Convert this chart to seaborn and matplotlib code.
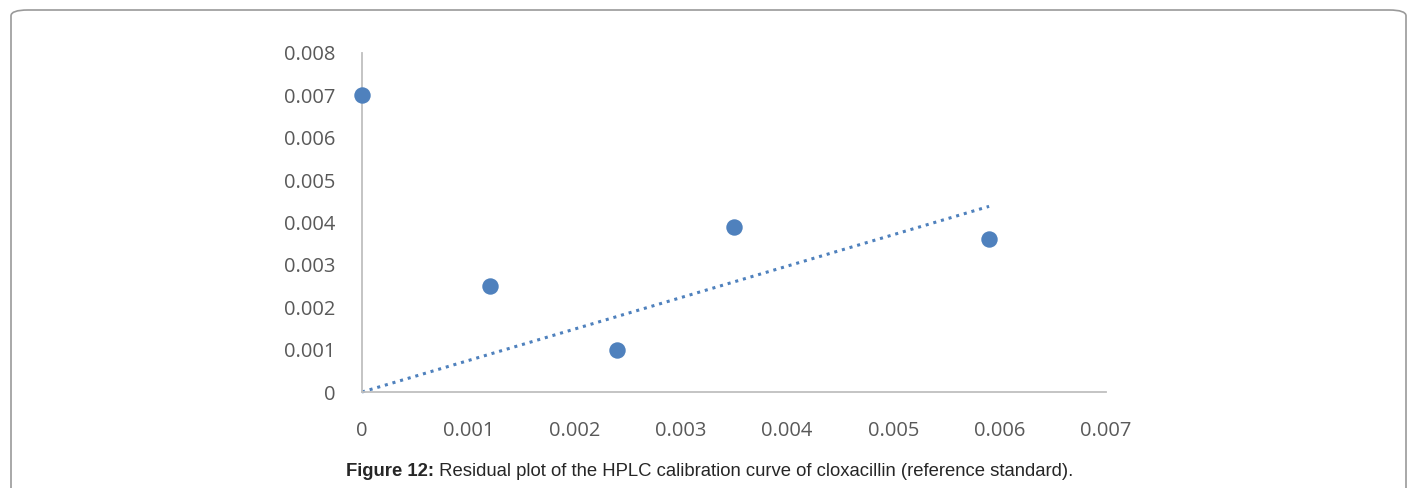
import numpy as np
import pandas as pd
import seaborn as sns
import matplotlib.pyplot as plt
from matplotlib.patches import FancyBboxPatch

# Residuals of the calibration standards
concentration = [0.0, 0.0012, 0.0024, 0.0035, 0.0059]
residual = [0.007, 0.0025, 0.001, 0.0039, 0.0036]
x_ticks = [0, 0.001, 0.002, 0.003, 0.004, 0.005, 0.006, 0.007]
x_tick_labels = ["0", "0.001", "0.002", "0.003", "0.004", "0.005", "0.006", "0.007"]
y_ticks = [0, 0.001, 0.002, 0.003, 0.004, 0.005, 0.006, 0.007, 0.008]
y_tick_labels = ["0", "0.001", "0.002", "0.003", "0.004", "0.005", "0.006", "0.007", "0.008"]
caption_bold = "Figure 12:"
caption_text = " Residual plot of the HPLC calibration curve of cloxacillin (reference standard)."

df = pd.DataFrame({"conc": concentration, "res": residual})

sns.set_theme(style="white")
plt.rcParams["font.family"] = ["Open Sans", "DejaVu Sans"]

fig = plt.figure(figsize=(14.07, 4.88), dpi=100)

# rounded panel frame
frame = FancyBboxPatch((11 / 1407, -0.2), (1406 - 11) / 1407, 1.2 - 10 / 488,
                       boxstyle="round,pad=0,rounding_size=0.012",
                       transform=fig.transFigure, fill=False,
                       edgecolor="#9a9a9a", linewidth=1.2, zorder=0)
fig.patches.append(frame)

ax = fig.add_axes([362 / 1407, 1 - 392 / 488, (1106 - 362) / 1407, (392 - 53) / 488])
blue = "#4f81bd"

sns.scatterplot(data=df, x="conc", y="res", ax=ax, color=blue, s=140,
                edgecolor=blue, linewidth=0, zorder=3, clip_on=False)

# linear trendline forced through the origin
xv = np.array(concentration)
yv = np.array(residual)
slope = (xv @ yv) / (xv @ xv)
tx = np.array([0.0, xv.max()])
ax.plot(tx, slope * tx, linestyle=(0, (1, 1.6)), color=blue, linewidth=2.2,
        zorder=2, clip_on=False)

ax.set_xlim(0, 0.007)
ax.set_ylim(0, 0.008)
ax.set_xticks(x_ticks)
ax.set_xticklabels(x_tick_labels)
ax.set_yticks(y_ticks)
ax.set_yticklabels(y_tick_labels)
ax.set_xlabel("")
ax.set_ylabel("")
ax.tick_params(axis="x", length=0, pad=21, labelsize=14.5, labelcolor="#595959")
ax.tick_params(axis="y", length=0, pad=19, labelsize=14.5, labelcolor="#595959")

for side in ["top", "right"]:
    ax.spines[side].set_visible(False)
for side in ["left", "bottom"]:
    ax.spines[side].set_color("#bfbfbf")
    ax.spines[side].set_linewidth(1.3)
ax.grid(False)

# caption with bold figure number
cap_y = 1 - 472 / 488
t1 = fig.text(0.5, cap_y, caption_bold, fontsize=13.3, fontweight="bold",
              family=["Liberation Sans", "DejaVu Sans"], ha="left", va="center")
t2 = fig.text(0.5, cap_y, caption_text, fontsize=13.3,
              family=["Liberation Sans", "DejaVu Sans"], ha="left", va="center")
fig.canvas.draw()
r = fig.canvas.get_renderer()
w1 = t1.get_window_extent(r).width
w2 = t2.get_window_extent(r).width
total = w1 + w2
x0 = (710 - total / 2) / 1407
t1.set_x(x0)
t2.set_x(x0 + w1 / 1407)

fig.savefig("out.png", dpi=100)
